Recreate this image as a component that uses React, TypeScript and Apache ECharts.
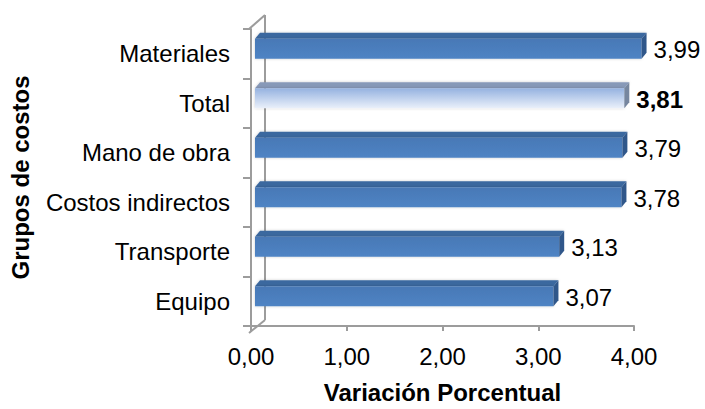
import React, { useEffect, useRef } from "react";
import * as echarts from "echarts";

const categories = ["Equipo", "Transporte", "Costos indirectos", "Mano de obra", "Total", "Materiales"];
const values = [3.07, 3.13, 3.78, 3.79, 3.81, 3.99];
const highlightCategory = "Total";
const xTicks = [0, 1, 2, 3, 4];

const FONT = "'Liberation Sans', Arial, sans-serif";
const FS = 24;
const fmt = (v: number) => v.toFixed(2).replace(".", ",");

export default function App() {
  const ref = useRef<HTMLDivElement>(null);
  useEffect(() => {
    if (!ref.current) return;
    const chart = echarts.init(ref.current, null, { renderer: "svg" });
    const data = values.map((v, i) => [v, i]);
    const gridLeft = 249, gridTop = 29, gridRight = 705 - 634, gridBottom = 409 - 333;
    const lineColor = "#9c9c9c";
    chart.setOption({
      animation: false,
      backgroundColor: "#ffffff",
      grid: { left: gridLeft, right: gridRight, top: gridTop, bottom: gridBottom, containLabel: false },
      xAxis: {
        type: "value",
        min: xTicks[0],
        max: xTicks[xTicks.length - 1],
        interval: 1,
        name: "Variación Porcentual",
        nameLocation: "middle",
        nameGap: 54,
        nameTextStyle: { fontFamily: FONT, fontSize: FS, fontWeight: "bold", color: "#000" },
        axisLine: { show: true, lineStyle: { color: lineColor, width: 2 } },
        axisTick: { show: true, length: 5, lineStyle: { color: lineColor, width: 2 } },
        axisLabel: { formatter: (v: number) => fmt(v), fontFamily: FONT, fontSize: FS, color: "#000", margin: 18 },
        splitLine: { show: false },
      },
      yAxis: {
        type: "category",
        data: categories,
        name: "Grupos de costos",
        nameLocation: "middle",
        nameGap: 219,
        nameRotate: 90,
        nameTextStyle: { fontFamily: FONT, fontSize: FS, fontWeight: "bold", color: "#000" },
        axisLine: { show: true, lineStyle: { color: lineColor, width: 2 } },
        axisTick: { show: true, length: 8, lineStyle: { color: lineColor, width: 2 } },
        axisLabel: { fontFamily: FONT, fontSize: FS, color: "#000", margin: 21 },
        splitLine: { show: false },
      },
      graphic: [
        { type: "line", z: 0, shape: { x1: 265, y1: 15, x2: 265, y2: 320 }, style: { stroke: lineColor, lineWidth: 2 } },
        { type: "line", z: 0, shape: { x1: 249, y1: 29, x2: 265, y2: 15 }, style: { stroke: lineColor, lineWidth: 2 } },
        { type: "line", z: 0, shape: { x1: 265, y1: 320, x2: 249, y2: 333 }, style: { stroke: lineColor, lineWidth: 2 } },
      ],
      series: [
        {
          type: "custom",
          z: 5,
          encode: { x: 0, y: 1 },
          data,
          renderItem: (params: any, api: any) => {
            const v = api.value(0);
            const idx = api.value(1);
            const end = api.coord([v, idx]);
            const start = api.coord([0, idx]);
            const c = end[1];
            const x0 = start[0] + 4;
            const xe = end[0] + 8.5;
            const dx = 5, dy = 6;
            const top = c - 15, bot = c + 5;
            const isHi = categories[idx] === highlightCategory;
            const frontFill = isHi
              ? new echarts.graphic.LinearGradient(0, 0, 0, 1, [
                  { offset: 0, color: "#95b2e0" },
                  { offset: 1, color: "#eaf0fa" },
                ])
              : new echarts.graphic.LinearGradient(0, 0, 0, 1, [
                  { offset: 0, color: "#4878b6" },
                  { offset: 1, color: "#4f84c4" },
                ]);
            const topFill = isHi ? "#8799b8" : "#3a679f";
            const sideFill = isHi ? "#76869f" : "#30578a";
            return {
              type: "group",
              children: [
                {
                  type: "polygon",
                  shape: { points: [[x0, top], [x0 + dx, top - dy], [xe + dx, top - dy], [xe, top]] },
                  style: { fill: topFill, shadowBlur: 3, shadowColor: "rgba(0,0,0,0.2)" },
                },
                {
                  type: "rect",
                  shape: { x: x0, y: top, width: xe - x0, height: bot - top },
                  style: { fill: frontFill, shadowBlur: 3, shadowColor: "rgba(0,0,0,0.2)" },
                },
                {
                  type: "polygon",
                  shape: { points: [[xe, top], [xe + dx, top - dy], [xe + dx, bot - dy], [xe, bot]] },
                  style: { fill: sideFill },
                },
                {
                  type: "text",
                  x: xe + dx + 7,
                  y: c - 4,
                  style: {
                    text: fmt(v),
                    fontFamily: FONT,
                    fontSize: FS,
                    fontWeight: isHi ? "bold" : "normal",
                    fill: "#000",
                    align: "left",
                    verticalAlign: "middle",
                  },
                },
              ],
            };
          },
        },
      ],
    });
    return () => chart.dispose();
  }, []);
  return <div ref={ref} style={{ width: 705, height: 409, position: "absolute", left: 0, top: 0 }} />;
}
